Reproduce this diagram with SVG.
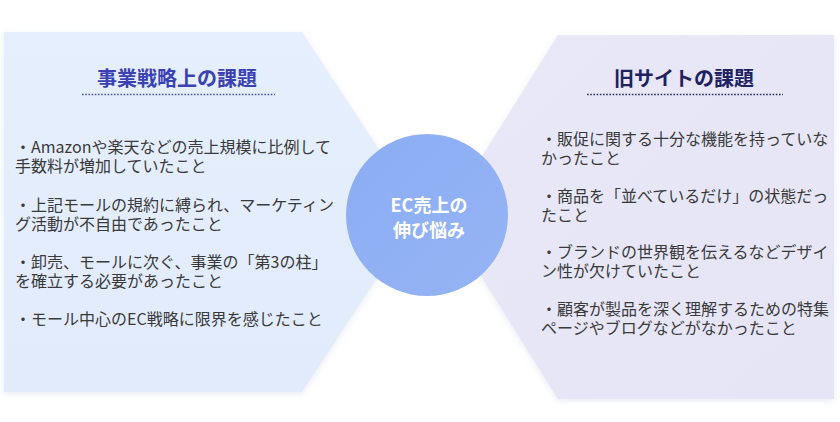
<svg xmlns="http://www.w3.org/2000/svg" width="840" height="422" viewBox="0 0 840 422">
<defs>
<filter id="sh" x="-5%" y="-5%" width="110%" height="112%">
<feDropShadow dx="0" dy="2" stdDeviation="3" flood-color="#8090b0" flood-opacity="0.18"/>
</filter>
<linearGradient id="gl" x1="0" y1="0" x2="0" y2="1">
<stop offset="0" stop-color="#e6effd"/>
<stop offset="1" stop-color="#e1ebfc"/>
</linearGradient>
<linearGradient id="gr" x1="0" y1="0" x2="1" y2="1">
<stop offset="0" stop-color="#e8e8f7"/>
<stop offset="1" stop-color="#e6e5f6"/>
</linearGradient>
<linearGradient id="gc" x1="0" y1="0" x2="1" y2="1">
<stop offset="0" stop-color="#8badf3"/>
<stop offset="1" stop-color="#95b4f5"/>
</linearGradient>
</defs>
<style>
.body{font-family:"Noto Sans CJK JP","Noto Sans",sans-serif;font-size:16px;fill:#3a3a3a;}
.title{font-family:"Noto Sans CJK JP","Noto Sans",sans-serif;font-size:20px;font-weight:bold;text-anchor:middle;}
.center{font-family:"Noto Sans CJK JP","Noto Sans",sans-serif;font-size:18px;font-weight:bold;fill:#ffffff;text-anchor:middle;}
.dots{stroke-width:1.6;stroke-dasharray:1.6 1.6;fill:none;}
</style>
<rect width="840" height="422" fill="#ffffff"/>
<g id="left-panel">
<polygon points="4,32 302,32 420,212 302,392 4,392" fill="url(#gl)" filter="url(#sh)"/>
<text class="title" x="177" y="86" fill="#3b41b3">事業戦略上の課題</text>
<line class="dots" x1="82" y1="94.5" x2="275" y2="94.5" stroke="#4a55c0"/>
<text class="body" x="15" y="153">・Amazonや楽天などの売上規模に比例して</text>
<text class="body" x="15" y="172">手数料が増加していたこと</text>
<text class="body" x="15" y="211">・上記モールの規約に縛られ、マーケティン</text>
<text class="body" x="15" y="230">グ活動が不自由であったこと</text>
<text class="body" x="15" y="268">・卸売、モールに次ぐ、事業の「第3の柱」</text>
<text class="body" x="15" y="287">を確立する必要があったこと</text>
<text class="body" x="15" y="325">・モール中心のEC戦略に限界を感じたこと</text>
</g>
<g id="right-panel">
<polygon points="558,35 834,35 834,399 558,399 444,217" fill="url(#gr)" filter="url(#sh)"/>
<text class="title" x="684" y="86" fill="#1f2160">旧サイトの課題</text>
<line class="dots" x1="587" y1="94.5" x2="783" y2="94.5" stroke="#2a2c60"/>
<text class="body" x="541" y="145">・販促に関する十分な機能を持っていな</text>
<text class="body" x="541" y="164">かったこと</text>
<text class="body" x="541" y="202">・商品を「並べているだけ」の状態だっ</text>
<text class="body" x="541" y="221">たこと</text>
<text class="body" x="541" y="258">・ブランドの世界観を伝えるなどデザイ</text>
<text class="body" x="541" y="277">ン性が欠けていたこと</text>
<text class="body" x="541" y="315">・顧客が製品を深く理解するための特集</text>
<text class="body" x="541" y="334">ページやブログなどがなかったこと</text>
</g>
<g id="connectors"></g>
<g id="center-node">
<circle cx="427" cy="215" r="81" fill="url(#gc)"/>
<text class="center" x="429" y="212">EC売上の</text>
<text class="center" x="429" y="237">伸び悩み</text>
</g>
</svg>
